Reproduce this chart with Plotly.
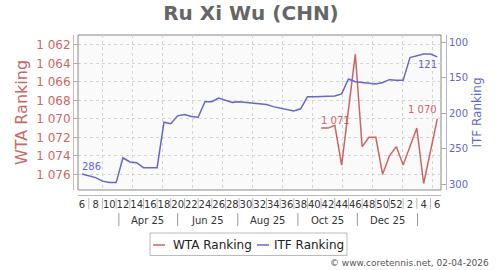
import plotly.graph_objects as go

# ---------------- data ----------------
week_numbers = list(range(6, 53)) + list(range(1, 7))   # ISO weeks, 2025 wk6 .. 2026 wk6
wta_rank = [None] * 35 + [1071, 1071, 1070.7, 1075, None, 1063, 1073, 1072, 1072,
                          1076, 1074, 1073, 1075, None, 1071, 1077, None, 1070]
itf_rank = [286, 289, 291, 296, 298, 298, 263, 269, 270, 277, 277, 277, 213, 215, 204,
            202, 205, 206, 184, 184, 179, 182, 185, 184, 185, 187, 188, 188, 191, 193,
            195, 197, 194, 177, 177, 177, 176, 176, 173, 152, 156, 157, 157, 159, 157,
            153, 154, 154, 122, 120, 117, 117, 121]
wta_ticks = [1062, 1064, 1066, 1068, 1070, 1072, 1074, 1076]
itf_ticks = [100, 150, 200, 250, 300]
month_labels = ["Apr 25", "Jun 25", "Aug 25", "Oct 25", "Dec 25"]
month_label_pos = [9.6, 18.4, 27.2, 35.9, 44.7]          # in week-index units
month_sep_pos = [5.4, 14.0, 22.8, 31.6, 40.3, 49.1]

RED = "#cc6666"
BLUE = "#6666cc"
FONT = "DejaVu Sans"

W, H = 500, 270
ML, MR, MT, MB = 73, 54, 35, 75
PW, PH = W - ML - MR, H - MT - MB


def px(x):
    return (x - ML) / PW


def py(y):
    return (H - MB - y) / PH


idx = list(range(len(week_numbers)))

fig = go.Figure()
fig.add_trace(go.Scatter(x=idx, y=wta_rank, mode="lines", name="WTA Ranking",
                         line=dict(color=RED, width=1.5), connectgaps=True, yaxis="y"))
fig.add_trace(go.Scatter(x=idx, y=itf_rank, mode="lines", name="ITF Ranking",
                         line=dict(color=BLUE, width=1.5), yaxis="y2"))

shapes = []
# plot frame
shapes.append(dict(type="rect", xref="x domain", yref="y domain", x0=0, x1=1, y0=0, y1=1,
                   fillcolor="#fafafa", line=dict(color="#888", width=1), layer="below"))
# week separators
for i in idx:
    if i % 2 == 1:
        shapes.append(dict(type="line", xref="x", yref="paper", x0=i, x1=i,
                           y0=py(209), y1=py(198), line=dict(color="#bbb", width=1)))
for p in month_sep_pos:
    shapes.append(dict(type="line", xref="x", yref="paper", x0=p, x1=p,
                       y0=py(226), y1=py(213), line=dict(color="#999", width=1)))

annotations = []
for lab, p in zip(month_labels, month_label_pos):
    annotations.append(dict(xref="x", yref="paper", x=p, y=py(220), text=lab, showarrow=False,
                            xanchor="center", yanchor="middle",
                            font=dict(family=FONT, size=10, color="#333")))


def fmt(v):
    return f"{int(round(v)):,}".replace(",", " ")


# data labels: first and last points of each series
wta_pts = [(i, v) for i, v in zip(idx, wta_rank) if v is not None]
itf_pts = list(zip(idx, itf_rank))
annotations.append(dict(xref="x", yref="y2", x=itf_pts[0][0], y=itf_pts[0][1], text=fmt(itf_pts[0][1]),
                        showarrow=False, xanchor="left", yanchor="middle", yshift=8, xshift=-2,
                        font=dict(family=FONT, size=10, color=BLUE)))
annotations.append(dict(xref="x", yref="y2", x=itf_pts[-1][0], y=itf_pts[-1][1], text=fmt(itf_pts[-1][1]),
                        showarrow=False, xanchor="right", yanchor="middle", yshift=-8, xshift=2,
                        font=dict(family=FONT, size=10, color=BLUE)))
annotations.append(dict(xref="x", yref="y", x=wta_pts[0][0], y=wta_pts[0][1], text=fmt(wta_pts[0][1]),
                        showarrow=False, xanchor="left", yanchor="middle", yshift=8, xshift=-2,
                        font=dict(family=FONT, size=10, color=RED)))
annotations.append(dict(xref="x", yref="y", x=wta_pts[-1][0], y=wta_pts[-1][1], text=fmt(wta_pts[-1][1]),
                        showarrow=False, xanchor="right", yanchor="middle", yshift=9, xshift=2,
                        font=dict(family=FONT, size=10, color=RED)))

# custom legend
shapes.append(dict(type="rect", xref="paper", yref="paper", x0=px(150), x1=px(347),
                   y0=py(255.5), y1=py(233), line=dict(color="#bbb", width=1), fillcolor="white"))
shapes.append(dict(type="line", xref="paper", yref="paper", x0=px(153), x1=px(165),
                   y0=py(245), y1=py(245), line=dict(color=RED, width=1.5)))
shapes.append(dict(type="line", xref="paper", yref="paper", x0=px(257), x1=px(269),
                   y0=py(245), y1=py(245), line=dict(color=BLUE, width=1.5)))
annotations.append(dict(xref="paper", yref="paper", x=px(171), y=py(245), text="WTA Ranking",
                        showarrow=False, xanchor="left", yanchor="middle",
                        font=dict(family=FONT, size=12, color="#222")))
annotations.append(dict(xref="paper", yref="paper", x=px(272), y=py(245), text="ITF Ranking",
                        showarrow=False, xanchor="left", yanchor="middle",
                        font=dict(family=FONT, size=12, color="#222")))
# footer
annotations.append(dict(xref="paper", yref="paper", x=px(491), y=py(263),
                        text="© www.coretennis.net, 02-04-2026", showarrow=False,
                        xanchor="right", yanchor="middle",
                        font=dict(family=FONT, size=9, color="#555")))

fig.update_layout(
    width=W, height=H,
    margin=dict(l=ML, r=MR, t=MT, b=MB, pad=0),
    paper_bgcolor="white", plot_bgcolor="white",
    separators=". ",
    showlegend=False,
    font=dict(family=FONT, size=10, color="#333"),
    title=dict(text="<b>Ru Xi Wu (CHN)</b>", x=251 / W, xref="container", xanchor="center",
               y=1 - 13 / H, yref="container", yanchor="middle",
               font=dict(family=FONT, size=20, color="#666")),
    xaxis=dict(domain=[5 / PW, 1 - 5 / PW], range=[-0.58, 52.54], anchor="free", position=0,
               tickmode="array", tickvals=[i for i in idx if i % 2 == 0],
               ticktext=[str(week_numbers[i]) for i in idx if i % 2 == 0],
               tickfont=dict(family=FONT, size=10, color="#333"), tickangle=0,
               showline=True, linecolor="#bbb", linewidth=1, ticks="", showgrid=False,
               zeroline=False,
               minor=dict(tickmode="linear", tick0=3.07, dtick=4.385, showgrid=True,
                          gridcolor="#d4d4d4", griddash="3px,3px", gridwidth=1, ticks="")),
    yaxis=dict(domain=[5 / PH, 1], range=[1077.70, 1060.92], anchor="free", position=0,
               side="left", tickmode="array", tickvals=wta_ticks, tickformat=",d",
               tickfont=dict(family=FONT, size=12, color=RED),
               showline=True, linecolor="#e3b0b0", linewidth=1,
               ticks="inside", ticklen=5, tickcolor="#aaa",
               showgrid=True, gridcolor="#d4d4d4", griddash="3px,3px", zeroline=False,
               title=dict(text="WTA Ranking", font=dict(family=FONT, size=16, color=RED), standoff=3)),
    yaxis2=dict(overlaying="y", range=[308.45, 90.1], anchor="free", position=1, side="right",
                tickmode="array", tickvals=itf_ticks,
                tickfont=dict(family=FONT, size=10, color=BLUE),
                showline=True, linecolor="#b0b0e3", linewidth=1,
                ticks="inside", ticklen=5, tickcolor="#aaa",
                showgrid=False, zeroline=False,
                title=dict(text="ITF Ranking", font=dict(family=FONT, size=12, color=BLUE), standoff=5)),
    shapes=shapes,
    annotations=annotations,
)

fig.write_html("out.html")
